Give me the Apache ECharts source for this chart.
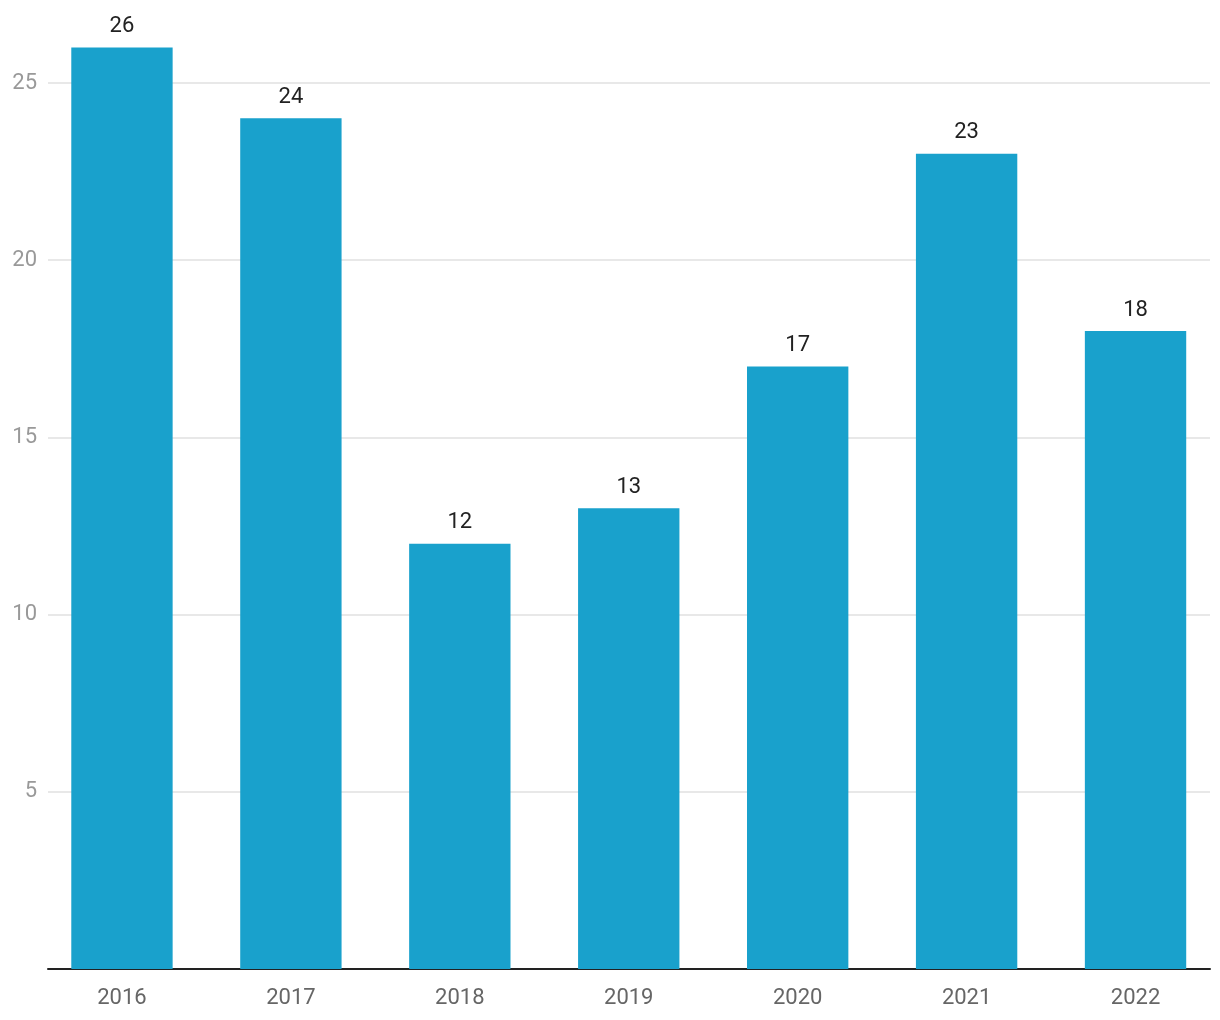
<!DOCTYPE html>
<html>
<head>
<meta charset="utf-8">
<script src="https://cdn.jsdelivr.net/npm/echarts@6/dist/echarts.min.js"></script>
<style>html,body{margin:0;padding:0;background:#fff}#c{width:1220px;height:1020px}</style>
</head>
<body>
<div id="c"></div>
<script>
const categories = ['2016', '2017', '2018', '2019', '2020', '2021', '2022'];
const values = [26, 24, 12, 13, 17, 23, 18];
const yTicks = [0, 5, 10, 15, 20, 25];

const chart = echarts.init(document.getElementById('c'));
const font = 'Roboto';
chart.setOption({
  animation: false,
  grid: [
    { left: 48, right: 10, top: 83, bottom: 51 },
    { left: 37.5, width: 1186.5, top: 12, bottom: 51 }
  ],
  xAxis: [
    { type: 'category', gridIndex: 0, data: categories,
      axisLine: { show: true, lineStyle: { color: '#222', width: 2 } },
      axisTick: { show: false }, axisLabel: { show: false }, splitLine: { show: false } },
    { type: 'category', gridIndex: 1, data: categories,
      axisLine: { show: false }, axisTick: { show: false },
      axisLabel: { show: true, color: '#666', fontFamily: font, fontSize: 22, margin: 18 } }
  ],
  yAxis: [
    { type: 'value', gridIndex: 0, min: yTicks[0], max: yTicks[yTicks.length - 1], interval: 5,
      axisLine: { show: false }, axisTick: { show: false },
      axisLabel: { color: '#999', fontFamily: font, fontSize: 22, margin: 11,
        formatter: v => (v === 0 ? '' : String(v)) },
      splitLine: { show: true, lineStyle: { color: '#e0e0e0', width: 1.5 } } },
    { type: 'value', gridIndex: 1, min: 0, max: 27,
      axisLine: { show: false }, axisTick: { show: false }, axisLabel: { show: false },
      splitLine: { show: false } }
  ],
  series: [{
    type: 'bar', xAxisIndex: 1, yAxisIndex: 1, data: values, barWidth: '60%',
    itemStyle: { color: '#19a1cc' },
    label: { show: true, position: 'top', distance: 10, color: '#222', fontFamily: font, fontSize: 22 }
  }]
});
</script>
</body>
</html>
